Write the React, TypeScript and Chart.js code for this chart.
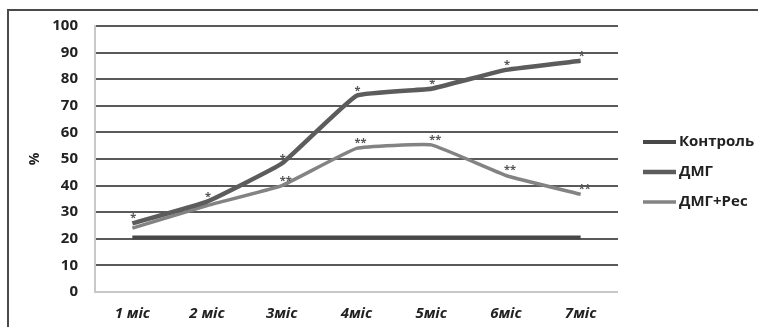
import React, { useEffect, useRef } from "react";
import { Chart, registerables } from "chart.js";

Chart.register(...registerables);

const categories = ["1 міс", "2 міс", "3міс", "4міс", "5міс", "6міс", "7міс"];
const controlValues = [20.5, 20.5, 20.5, 20.5, 20.5, 20.5, 20.5];
const dmgValues = [25.8, 34, 48.3, 73.8, 76.4, 83.5, 86.9];
const dmgResValues = [24, 32.5, 40, 54, 55.3, 43.8, 36.7];
const dmgMarks = ["*", "*", "*", "*", "*", "*", "*"];
const dmgResMarks = ["", "", "**", "**", "**", "**", "**"];
const seriesLabels = ["Контроль", "ДМГ", "ДМГ+Рес"];
const yTicks = [0, 10, 20, 30, 40, 50, 60, 70, 80, 90, 100];

const FONT = "'Open Sans', 'DejaVu Sans', sans-serif";

const marksPlugin = {
  id: "marks",
  afterDatasetsDraw(chart: any) {
    const ctx = chart.ctx;
    const sets = [
      { idx: 1, marks: dmgMarks, dx: 1 },
      { idx: 2, marks: dmgResMarks, dx: 4 },
    ];
    ctx.save();
    ctx.font = `bold 11px ${FONT}`;
    ctx.fillStyle = "#555";
    ctx.textAlign = "center";
    ctx.textBaseline = "alphabetic";
    for (const s of sets) {
      const meta = chart.getDatasetMeta(s.idx);
      meta.data.forEach((pt: any, j: number) => {
        const m = s.marks[j];
        if (!m) return;
        ctx.fillText(m, pt.x + s.dx, pt.y - 2);
      });
    }
    ctx.restore();
  },
};

const legendPlugin = {
  id: "customLegend",
  afterDraw(chart: any) {
    const ctx = chart.ctx;
    ctx.save();
    const x0 = 643;
    const x1 = 676;
    const ys = [142, 172, 202];
    chart.data.datasets.forEach((ds: any, i: number) => {
      const y = ys[i];
      ctx.strokeStyle = ds.borderColor;
      ctx.lineWidth = ds.borderWidth;
      ctx.beginPath();
      ctx.moveTo(x0, y);
      ctx.lineTo(x1, y);
      ctx.stroke();
      ctx.fillStyle = "#222";
      ctx.font = `bold 15px ${FONT}`;
      ctx.textAlign = "left";
      ctx.textBaseline = "middle";
      ctx.fillText(ds.label, x1 + 3, y);
    });
    ctx.restore();
  },
};

function ChartView() {
  const ref = useRef<HTMLCanvasElement | null>(null);
  useEffect(() => {
    if (!ref.current) return;
    const chart = new Chart(ref.current, {
      type: "line",
      data: {
        labels: categories,
        datasets: [
          {
            label: seriesLabels[0],
            data: controlValues,
            borderColor: "#474747",
            borderWidth: 4,
            pointRadius: 0,
            tension: 0,
          },
          {
            label: seriesLabels[1],
            data: dmgValues,
            borderColor: "#5c5c5c",
            borderWidth: 4.5,
            pointRadius: 0,
            tension: 0.1,
          },
          {
            label: seriesLabels[2],
            data: dmgResValues,
            borderColor: "#838383",
            borderWidth: 3.5,
            pointRadius: 0,
            tension: 0.1,
          },
        ],
      },
      options: {
        animation: false,
        responsive: false,
        maintainAspectRatio: false,
        layout: { padding: { top: 25, right: 140, left: 0, bottom: 0 } },
        plugins: {
          legend: { display: false },
          tooltip: { enabled: false },
        },
        scales: {
          x: {
            offset: true,
            grid: { display: false, drawTicks: false },
            border: { display: false },
            ticks: {
              padding: 13,
              color: "#222",
              font: { family: FONT, size: 15, weight: "bold", style: "italic" },
              maxRotation: 0,
            },
            afterFit(scale: any) {
              scale.height = 35;
            },
          },
          y: {
            min: 0,
            max: 100,
            afterBuildTicks(scale: any) {
              scale.ticks = yTicks.map((v) => ({ value: v }));
            },
            grid: {
              drawTicks: false,
              lineWidth: 2,
              color: (c: any) => (c.tick && c.tick.value === 0 ? "#c8c8c8" : "#5a5a5a"),
            },
            border: { display: true, color: "#c8c8c8", width: 2 },
            ticks: {
              padding: 17,
              color: "#222",
              font: { family: FONT, size: 15, weight: "bold" },
            },
            title: {
              display: true,
              text: "%",
              color: "#222",
              font: { family: FONT, size: 14, weight: "bold" },
              padding: { top: 27, bottom: 0 },
            },
            afterFit(scale: any) {
              scale.width = 95;
            },
          },
        },
      },
      plugins: [marksPlugin, legendPlugin],
    } as any);
    return () => chart.destroy();
  }, []);
  return <canvas ref={ref} width={758} height={327} style={{ position: "absolute", left: 0, top: 0 }} />;
}

export default function App() {
  return (
    <div style={{ position: "fixed", left: 0, top: 0, width: 758, height: 327, overflow: "hidden", background: "#fff" }}>
      <div
        style={{
          position: "absolute",
          left: 7,
          top: 9,
          width: 800,
          height: 400,
          border: "2px solid #4a4a4a",
          boxSizing: "border-box",
        }}
      />
      <ChartView />
    </div>
  );
}
